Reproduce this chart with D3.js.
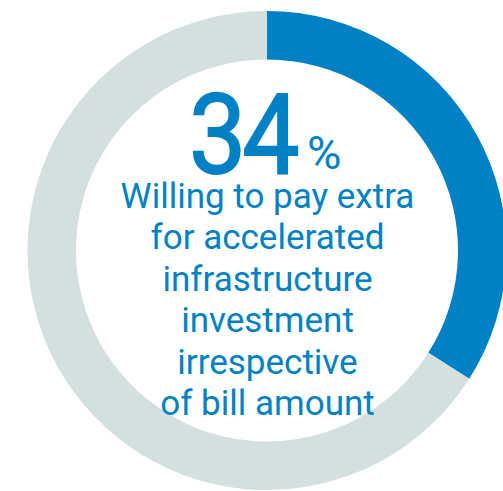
<!DOCTYPE html>
<html>
<head>
<meta charset="utf-8">
<script src="https://cdn.jsdelivr.net/npm/d3@7"></script>
<style>
  html, body { margin: 0; padding: 0; background: #ffffff; }
  svg { display: block; }
</style>
</head>
<body>
<svg id="chart" width="503" height="491"></svg>
<script>
// Share of respondents, drawn as a donut
const categories = ["Willing", "Other"];
const values = [34, 66];
const colors = ["#0081C5", "#D4DFDF"];
const headline = "34";
const headlineUnit = "%";
const captionLines = [
  "Willing to pay extra",
  "for accelerated",
  "infrastructure",
  "investment",
  "irrespective",
  "of bill amount"
];

const svg = d3.select("#chart");
const cx = 267, cy = 250.5;
const outerR = 239.5, innerR = 191;

const pie = d3.pie().sort(null).value(d => d.value);
const arc = d3.arc().innerRadius(innerR).outerRadius(outerR);
const data = categories.map((c, i) => ({ category: c, value: values[i] }));

const g = svg.append("g").attr("transform", `translate(${cx},${cy})`);
g.selectAll("path")
  .data(pie(data))
  .join("path")
  .attr("d", arc)
  .attr("fill", (d, i) => colors[i]);

const blue = colors[0];
const font = "Roboto, 'Noto Sans', sans-serif";

// Headline figure (slightly condensed) and its unit
svg.append("text")
  .attr("transform", "translate(189,173) scale(0.92,1)")
  .attr("fill", blue)
  .attr("font-family", font)
  .attr("font-size", 111)
  .attr("font-weight", 400)
  .attr("stroke", blue)
  .attr("stroke-width", 1.8)
  .attr("letter-spacing", -4.5)
  .text(headline);
svg.append("text")
  .attr("x", 307)
  .attr("y", 169)
  .attr("fill", blue)
  .attr("font-family", font)
  .attr("font-size", 47)
  .text(headlineUnit);

// Caption
svg.append("g")
  .selectAll("text")
  .data(captionLines)
  .join("text")
  .attr("x", cx + 0.5)
  .attr("y", (d, i) => 208 + i * 41.4)
  .attr("text-anchor", "middle")
  .attr("fill", blue)
  .attr("font-family", font)
  .attr("font-size", 35)
  .text(d => d);
</script>
</body>
</html>
